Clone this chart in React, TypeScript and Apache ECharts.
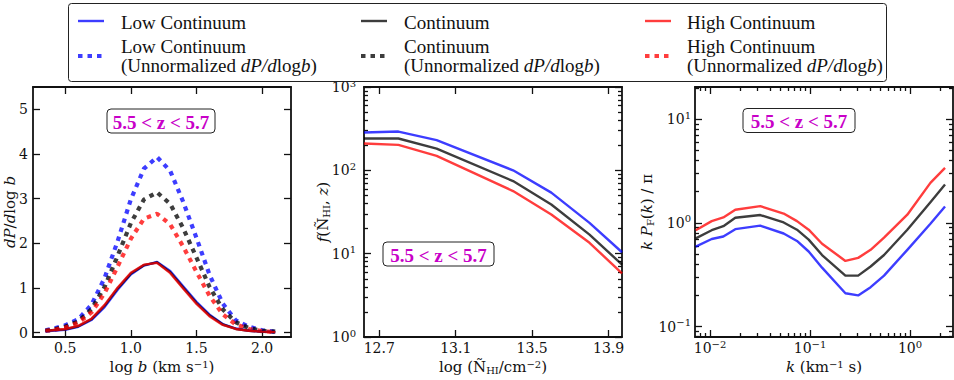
import React, { useEffect, useRef } from "react";
import * as echarts from "echarts";

// ---------------- data ----------------
// Panel 1: dP/dlog b vs log b
const logB = [0.35, 0.4, 0.5, 0.6, 0.7, 0.8, 0.9, 1.0, 1.1, 1.2, 1.3, 1.4, 1.5, 1.6, 1.7, 1.8, 1.9, 2.0, 2.1];
const dpLow = [0.03, 0.04, 0.06, 0.13, 0.28, 0.57, 0.96, 1.3, 1.5, 1.58, 1.38, 1.03, 0.69, 0.4, 0.19, 0.09, 0.04, 0.02, 0.01];
const dpMid = [0.04, 0.05, 0.07, 0.14, 0.3, 0.6, 0.99, 1.32, 1.51, 1.57, 1.35, 1.0, 0.66, 0.38, 0.18, 0.08, 0.04, 0.02, 0.01];
const dpHigh = [0.04, 0.05, 0.08, 0.15, 0.31, 0.62, 1.01, 1.34, 1.52, 1.56, 1.33, 0.98, 0.64, 0.36, 0.17, 0.08, 0.04, 0.02, 0.01];
const dpLowUn = [0.05, 0.08, 0.16, 0.3, 0.62, 1.22, 2.05, 2.98, 3.67, 3.93, 3.62, 2.92, 2.12, 1.29, 0.65, 0.27, 0.13, 0.05, 0.02];
const dpMidUn = [0.04, 0.06, 0.13, 0.25, 0.52, 1.02, 1.72, 2.45, 2.98, 3.14, 2.88, 2.33, 1.68, 1.02, 0.52, 0.23, 0.1, 0.04, 0.02];
const dpHighUn = [0.04, 0.05, 0.11, 0.22, 0.45, 0.88, 1.48, 2.1, 2.55, 2.66, 2.42, 1.92, 1.36, 0.82, 0.41, 0.18, 0.08, 0.03, 0.01];

// Panel 2: f(N_HI, z) vs log N_HI
const logNHI = [12.62, 12.8, 13.0, 13.4, 13.6, 13.8, 13.97];
const fLow = [284, 292, 230, 100, 54, 23.4, 10.4];
const fMid = [241, 241, 182, 74.3, 38.9, 16.9, 7.4];
const fHigh = [210, 202, 149, 56.4, 29.5, 13.5, 5.8];

// Panel 3: k P_F(k) / pi vs k
const kVals = [0.0072, 0.0104, 0.0136, 0.0179, 0.0318, 0.0545, 0.0741, 0.097, 0.132, 0.226, 0.303, 0.404, 0.55, 0.94, 1.6, 2.24];
const pLow = [0.59, 0.7, 0.74, 0.87, 0.94, 0.79, 0.67, 0.53, 0.37, 0.21, 0.2, 0.24, 0.31, 0.55, 0.98, 1.44];
const pMid = [0.71, 0.85, 0.93, 1.12, 1.19, 1.01, 0.86, 0.69, 0.49, 0.31, 0.31, 0.38, 0.49, 0.86, 1.58, 2.34];
const pHigh = [0.85, 1.04, 1.13, 1.34, 1.45, 1.23, 1.04, 0.86, 0.63, 0.43, 0.46, 0.55, 0.72, 1.2, 2.43, 3.39];

// ticks
const xTicks1 = [0.5, 1.0, 1.5, 2.0];
const yTicks1 = [0, 1, 2, 3, 4, 5];
const xTicks2 = [12.7, 13.1, 13.5, 13.9];
const yDecades2 = [0, 1, 2, 3];
const xDecades3 = [-2, -1, 0];
const yDecades3 = [-1, 0, 1];

const zLabel = "5.5 < z < 5.7";
const legendNames = ["Low Continuum", "Continuum", "High Continuum"];

// ---------------- styles ----------------
const SERIF = '"DejaVu Serif", serif';
const LEGF = '"Liberation Serif", serif';
const INK = "#111";
const BLUE = "rgba(0,0,255,0.76)";
const BLACK = "rgba(0,0,0,0.76)";
const RED = "rgba(255,0,0,0.76)";
const COLORS = [BLUE, BLACK, RED];
const DOT = [4.5, 5];

const GRIDS = [
  { left: 33, top: 87, width: 258, height: 250, outerBoundsMode: "none", containLabel: false },
  { left: 364, top: 87, width: 258, height: 250, outerBoundsMode: "none", containLabel: false },
  { left: 695, top: 87, width: 258, height: 250, outerBoundsMode: "none", containLabel: false },
];

const nameRich = {
  i: { fontStyle: "italic", fontFamily: SERIF, fontSize: 15, color: INK, lineHeight: 16 },
  sup: { fontFamily: SERIF, fontSize: 10, color: INK, verticalAlign: "top", lineHeight: 9 },
  sub: { fontFamily: SERIF, fontSize: 10, color: INK, verticalAlign: "bottom", lineHeight: 9 },
};
const labelRich = {
  s: { fontFamily: SERIF, fontSize: 10, color: INK, verticalAlign: "top", lineHeight: 9 },
};

const pow10 = (v: number) => {
  const n = Math.round(v);
  return "10{s|" + (n < 0 ? "\u2212" + -n : String(n)) + "}";
};

const minorLogs = (lo: number, hi: number) => {
  const out: number[] = [];
  for (let n = Math.floor(lo); n <= Math.ceil(hi); n++) {
    for (let m = 2; m <= 9; m++) {
      const v = n + Math.log10(m);
      if (v > lo && v < hi) out.push(v);
    }
  }
  return out;
};

type AxOpt = {
  grid: number;
  pos: string;
  min: number;
  max: number;
  ticks: number[];
  labels?: boolean;
  fmt?: (v: number) => string;
  name?: string;
  nameGap?: number;
  labelMargin?: number;
  line?: boolean;
  tickLen?: number;
};

function mkAxis(o: AxOpt) {
  return {
    type: "value",
    gridIndex: o.grid,
    position: o.pos,
    min: o.min,
    max: o.max,
    name: o.name || "",
    nameLocation: "middle",
    nameGap: o.nameGap || 0,
    nameMoveOverlap: false,
    nameTextStyle: { fontFamily: SERIF, fontSize: 15, color: INK, lineHeight: 16, rich: nameRich },
    axisLine: { show: o.line !== false, onZero: false, lineStyle: { color: INK, width: 1.8 } },
    axisTick: {
      show: true,
      inside: true,
      length: o.tickLen || 7,
      customValues: o.ticks,
      lineStyle: { color: INK, width: 1.3 },
    },
    axisLabel: {
      show: !!o.labels,
      customValues: o.ticks,
      margin: o.labelMargin ?? 2,
      fontFamily: SERIF,
      fontSize: 14,
      color: INK,
      lineHeight: 18,
      rich: labelRich,
      formatter: o.fmt,
    },
    splitLine: { show: false },
  };
}

// ---------------- chart ----------------
function buildOption() {
  const xMin3 = -2.15, xMax3 = 0.43, yMin3 = -1.1, yMax3 = 1.31;
  const xAxis = [
    mkAxis({ grid: 0, pos: "bottom", min: 0.255, max: 2.22, ticks: xTicks1, labels: true, fmt: (v) => v.toFixed(1), name: "log {i|b} (km s{sup|\u22121})", nameGap: 22 }),
    mkAxis({ grid: 0, pos: "top", min: 0.255, max: 2.22, ticks: xTicks1 }),
    mkAxis({ grid: 1, pos: "bottom", min: 12.62, max: 13.97, ticks: xTicks2, labels: true, fmt: (v) => v.toFixed(1), name: "log (\u00d1{sub|HI}/cm{sup|\u22122})", nameGap: 22 }),
    mkAxis({ grid: 1, pos: "top", min: 12.62, max: 13.97, ticks: xTicks2 }),
    mkAxis({ grid: 2, pos: "bottom", min: xMin3, max: xMax3, ticks: xDecades3, labels: true, fmt: pow10, name: "{i|k} (km{sup|\u22121} s)", nameGap: 22 }),
    mkAxis({ grid: 2, pos: "top", min: xMin3, max: xMax3, ticks: xDecades3 }),
    mkAxis({ grid: 2, pos: "bottom", min: xMin3, max: xMax3, ticks: minorLogs(xMin3, xMax3), line: false, tickLen: 4 }),
    mkAxis({ grid: 2, pos: "top", min: xMin3, max: xMax3, ticks: minorLogs(xMin3, xMax3), line: false, tickLen: 4 }),
  ];
  const yAxis = [
    mkAxis({ grid: 0, pos: "left", min: -0.1, max: 5.5, ticks: yTicks1, labels: true, fmt: (v) => String(Math.round(v)), name: "{i|dP}/{i|d}log {i|b}", nameGap: 15, labelMargin: 5 }),
    mkAxis({ grid: 0, pos: "right", min: -0.1, max: 5.5, ticks: yTicks1 }),
    mkAxis({ grid: 1, pos: "left", min: 0, max: 3, ticks: yDecades2, labels: true, fmt: pow10, name: "{i|f}(\u00d1{sub|HI}, {i|z})", nameGap: 33, labelMargin: 8 }),
    mkAxis({ grid: 1, pos: "right", min: 0, max: 3, ticks: yDecades2 }),
    mkAxis({ grid: 1, pos: "left", min: 0, max: 3, ticks: minorLogs(0, 3), line: false, tickLen: 4 }),
    mkAxis({ grid: 1, pos: "right", min: 0, max: 3, ticks: minorLogs(0, 3), line: false, tickLen: 4 }),
    mkAxis({ grid: 2, pos: "left", min: yMin3, max: yMax3, ticks: yDecades3, labels: true, fmt: pow10, name: "{i|k} {i|P}{sub|F}({i|k}) / \u03c0", nameGap: 40, labelMargin: 4 }),
    mkAxis({ grid: 2, pos: "right", min: yMin3, max: yMax3, ticks: yDecades3 }),
    mkAxis({ grid: 2, pos: "left", min: yMin3, max: yMax3, ticks: minorLogs(yMin3, yMax3), line: false, tickLen: 4 }),
    mkAxis({ grid: 2, pos: "right", min: yMin3, max: yMax3, ticks: minorLogs(yMin3, yMax3), line: false, tickLen: 4 }),
  ];

  const line = (name: string, xi: number, yi: number, data: number[][], color: string, dotted: boolean, z: number) => ({
    type: "line",
    name,
    xAxisIndex: xi,
    yAxisIndex: yi,
    data,
    symbol: "none",
    clip: true,
    z,
    lineStyle: dotted
      ? { color, width: 4.2, type: DOT, cap: "butt" }
      : { color, width: 2.4, join: "round" },
  });

  const p1 = (arr: number[]) => logB.map((x, i) => [x, arr[i]]);
  const p2 = (arr: number[]) => logNHI.map((x, i) => [x, Math.log10(arr[i])]);
  const p3 = (arr: number[]) => kVals.map((k, i) => [Math.log10(k), Math.log10(arr[i])]);

  const series = [
    line("Low Continuum (Unnormalized)", 0, 0, p1(dpLowUn), BLUE, true, 2),
    line("Continuum (Unnormalized)", 0, 0, p1(dpMidUn), BLACK, true, 2),
    line("High Continuum (Unnormalized)", 0, 0, p1(dpHighUn), RED, true, 2),
    line("Low Continuum", 0, 0, p1(dpLow), BLUE, false, 3),
    line("Continuum", 0, 0, p1(dpMid), BLACK, false, 3),
    line("High Continuum", 0, 0, p1(dpHigh), RED, false, 3),
    line("Low Continuum", 2, 2, p2(fLow), BLUE, false, 3),
    line("Continuum", 2, 2, p2(fMid), BLACK, false, 3),
    line("High Continuum", 2, 2, p2(fHigh), RED, false, 3),
    line("Low Continuum", 4, 6, p3(pLow), BLUE, false, 3),
    line("Continuum", 4, 6, p3(pMid), BLACK, false, 3),
    line("High Continuum", 4, 6, p3(pHigh), RED, false, 3),
  ];

  // annotation boxes
  const zbox = (cx: number, cy: number, w: number) => ({
    type: "group",
    z: 10,
    children: [
      { type: "rect", shape: { x: cx - w / 2, y: cy - 12, width: w, height: 24, r: 4 }, style: { fill: "#fff", stroke: "#222", lineWidth: 1 } },
      {
        type: "text",
        style: { text: zLabel, x: cx, y: cy + 1, align: "center", verticalAlign: "middle", fontFamily: LEGF, fontWeight: "bold", fontSize: 19, fill: "#c800c8" },
      },
    ],
  });

  // legend
  const LFS = 19;
  const legRich = {
    i: { fontFamily: LEGF, fontStyle: "italic", fontSize: LFS, lineHeight: 19, fill: INK, color: INK },
  };
  const cols = [
    { x: 78, tx: 121 },
    { x: 361, tx: 404 },
    { x: 645, tx: 687 },
  ];
  const legendEls: any[] = [
    { type: "rect", z: 20, shape: { x: 68.5, y: 3.5, width: 818, height: 78, r: 3 }, style: { fill: "#fff", stroke: "#222", lineWidth: 1 } },
  ];
  cols.forEach((c, i) => {
    legendEls.push({ type: "line", z: 21, shape: { x1: c.x, y1: 21, x2: c.x + 26, y2: 21 }, style: { stroke: COLORS[i], lineWidth: 2.4 } });
    legendEls.push({ type: "text", z: 21, style: { text: legendNames[i], x: c.tx, y: 22, verticalAlign: "middle", fontFamily: LEGF, fontSize: LFS, fill: INK } });
    legendEls.push({ type: "line", z: 21, shape: { x1: c.x, y1: 56, x2: c.x + 26, y2: 56 }, style: { stroke: COLORS[i], lineWidth: 4.2, lineDash: DOT, lineCap: "butt" } });
    legendEls.push({
      type: "text",
      z: 21,
      style: {
        text: legendNames[i] + "\n(Unnormalized {i|dP/d}log{i|b})",
        x: c.tx,
        y: 55.5,
        verticalAlign: "middle",
        fontFamily: LEGF,
        fontSize: LFS,
        lineHeight: 19,
        fill: INK,
        rich: legRich,
      },
    });
  });

  return {
    animation: false,
    backgroundColor: "#fff",
    grid: GRIDS,
    xAxis,
    yAxis,
    series,
    graphic: [...legendEls, zbox(161, 121, 108), zbox(438.5, 254, 111), zbox(799, 120.5, 112)],
  };
}

export default function App() {
  const ref = useRef<HTMLDivElement>(null);
  useEffect(() => {
    if (!ref.current) return;
    const chart = echarts.init(ref.current, null, { renderer: "svg" });
    chart.setOption(buildOption() as any);
    return () => chart.dispose();
  }, []);
  return <div ref={ref} style={{ position: "fixed", left: 0, top: 0, width: 954, height: 380, background: "#fff" }} />;
}
